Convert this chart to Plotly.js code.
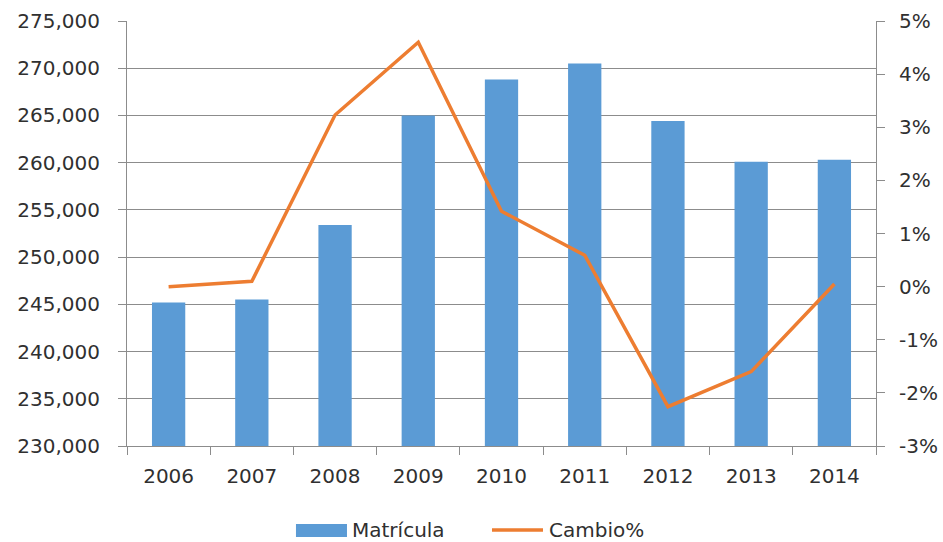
<!DOCTYPE html>
<html>
<head>
<meta charset="utf-8">
<script src="https://cdn.plot.ly/plotly-3.0.1.min.js"></script>
<style>html,body{margin:0;padding:0;background:#fff;}#chart{width:943px;height:542px;}</style>
</head>
<body>
<div id="chart"></div>
<script>
const years = ["2006","2007","2008","2009","2010","2011","2012","2013","2014"];
const matricula = [245200, 245500, 253400, 265000, 268800, 270500, 264400, 260100, 260300];
const cambio = [0.0, 0.1, 3.23, 4.6, 1.42, 0.59, -2.26, -1.6, 0.05];
const leftTicks = [230000, 235000, 240000, 245000, 250000, 255000, 260000, 265000, 270000, 275000];
const rightTicks = [-3, -2, -1, 0, 1, 2, 3, 4, 5];
const rightTickText = ["-3%", "-2%", "-1%", "0%", "1%", "2%", "3%", "4%", "5%"];
const seriesNames = ["Matrícula", "Cambio%"];

const fontFam = "'DejaVu Sans', 'Liberation Sans', sans-serif";
const txt = "#303030";
const gridCol = "#8c8c8c";
const barCol = "#5B9BD5";
const lineCol = "#ED7D31";
const fs = 20;

const traces = [
  {
    type: "bar", name: seriesNames[0], x: years, y: matricula,
    marker: {color: barCol}, yaxis: "y"
  },
  {
    type: "scatter", mode: "lines", name: seriesNames[1], x: years, y: cambio,
    line: {color: lineCol, width: 3.5}, yaxis: "y2"
  }
];

const layout = {
  width: 943, height: 542,
  margin: {l: 127, r: 67, t: 21, b: 96, autoexpand: false},
  paper_bgcolor: "#fff", plot_bgcolor: "#fff",
  font: {family: fontFam, color: txt, size: fs},
  bargap: 0.6,
  showlegend: false,
  xaxis: {
    type: "category", tickson: "boundaries", ticks: "outside", ticklen: 8,
    tickcolor: gridCol, showline: true, linecolor: gridCol, linewidth: 1,
    showgrid: false, tickfont: {size: fs, color: txt}, fixedrange: true,
    ticklabelstandoff: 12, automargin: false
  },
  yaxis: {
    range: [230000, 275000], tickvals: leftTicks, tickformat: ",.0f",
    showgrid: true, gridcolor: gridCol, gridwidth: 1,
    showline: true, linecolor: gridCol, ticks: "outside", ticklen: 8, tickcolor: gridCol,
    zeroline: false, tickfont: {size: fs, color: txt}, fixedrange: true,
    ticklabelstandoff: 14, automargin: false
  },
  yaxis2: {
    overlaying: "y", side: "right", range: [-3, 5],
    tickvals: rightTicks, ticktext: rightTickText,
    showgrid: false, zeroline: false, showline: true, linecolor: gridCol,
    ticks: "outside", ticklen: 8, tickcolor: gridCol,
    tickfont: {size: fs, color: txt}, fixedrange: true,
    ticklabelstandoff: 10, automargin: false
  },
  shapes: [
    {type: "rect", xref: "paper", yref: "paper", x0: 0.2256, x1: 0.2937, y0: -0.2141, y1: -0.1835,
     fillcolor: barCol, line: {width: 0}},
    {type: "line", xref: "paper", yref: "paper", x0: 0.4873, x1: 0.5554, y0: -0.1976, y1: -0.1976,
     line: {color: lineCol, width: 3.5}}
  ],
  annotations: [
    {xref: "paper", yref: "paper", x: 0.298, y: -0.1976, xanchor: "left", yanchor: "middle",
     text: seriesNames[0], showarrow: false, font: {size: fs, color: txt}},
    {xref: "paper", yref: "paper", x: 0.561, y: -0.1976, xanchor: "left", yanchor: "middle",
     text: seriesNames[1], showarrow: false, font: {size: fs, color: txt}}
  ]
};

Plotly.newPlot("chart", traces, layout, {displayModeBar: false, staticPlot: true});
</script>
</body>
</html>
